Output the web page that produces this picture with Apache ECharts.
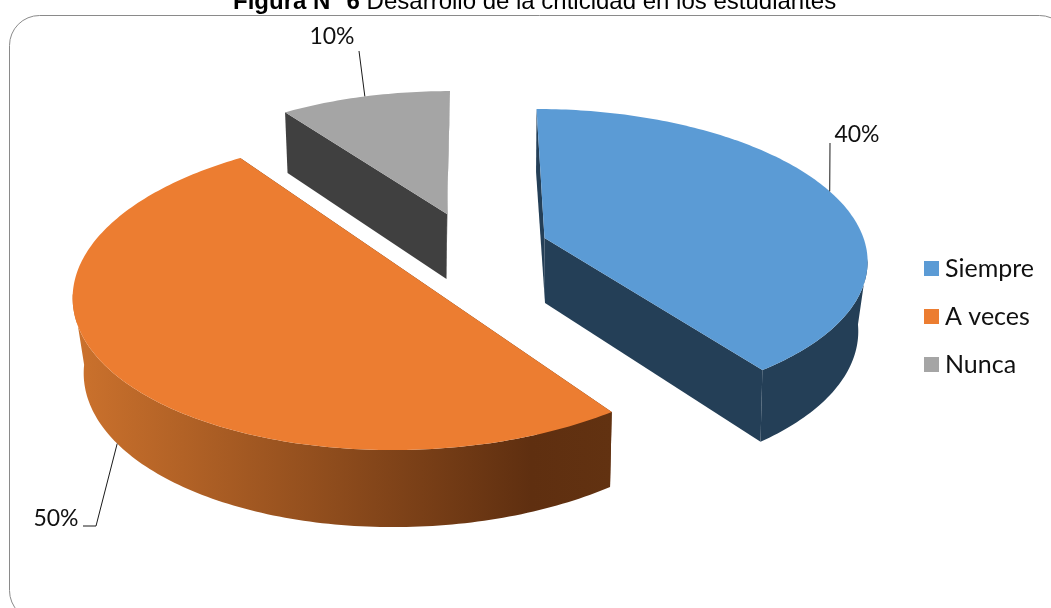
<!DOCTYPE html>
<html><head><meta charset="utf-8">
<style>html,body{margin:0;padding:0;background:#fff;overflow:hidden}#c{width:1051px;height:608px}</style>
<script src="https://cdn.jsdelivr.net/npm/echarts@6/dist/echarts.min.js"></script>
</head><body><div id="c"></div>
<script>
// ---- data ----
const categories = ['Siempre', 'A veces', 'Nunca'];
const values = [40, 50, 10];
const colors = ['#5b9bd5', '#ec7d31', '#a5a5a5'];
const titleBold = 'Figura N° 6';
const titleRest = ' Desarrollo de la criticidad en los estudiantes';

// ---- 3D projection of each exploded slice: circle -> perspective plane ----
const K_TOP = -0.131, K_BOT = -0.15;
const FRONT_FROM = 98, FRONT_TO = 262;   // angles of the rim that face the viewer
const geometry = [
  { top: {ox: 544.5, oy: 238,   A: 319, S: 9,   B: 145.9}, bot: {ox: 545,   oy: 303,   A: 308, S: 10.3, B: 150.7} },
  { top: {ox: 406.3, oy: 271.5, A: 329, S: -12, B: 155.2}, bot: {ox: 408.6, oy: 342.4, A: 319, S: -13,  B: 157} },
  { top: {ox: 447,   oy: 214,   A: 309.4, S: -3.4, B: 139}, bot: {ox: 446.5, oy: 279,  A: 306, S: -2, B: 147} }
];
const wallFill = [
  '#243f57',
  new echarts.graphic.LinearGradient(73, 0, 612, 0, [
    {offset: 0, color: '#cc722d'}, {offset: 0.85, color: '#5f2f10'}, {offset: 1, color: '#623211'}
  ], true),
  '#404040'
];
// leader lines: anchored on the slice mid-angle, then these extra vertices
const leaders = [
  { face: 'top', shift: -1.5, via: [[830, 143]], text: [857, 135] },
  { face: 'bot', shift: 0, via: [[96, 526], [83, 526]], text: [56, 519] },
  { face: 'top', shift: 0, via: [[359, 51]], text: [332, 37] }
];

const total = values.reduce((a, b) => a + b, 0);
const starts = []; let acc = 0;
values.forEach(v => { starts.push(acc); acc += v; });

function proj(g, k, thetaDeg) {
  const t = thetaDeg * Math.PI / 180, x = Math.sin(t), y = -Math.cos(t), d = 1 + k * y;
  return [g.ox + (g.A * x + g.S * y) / d, g.oy + g.B * y / d];
}
function arc(g, k, a0, a1) {
  const n = Math.ceil(Math.abs(a1 - a0)), pts = [];
  for (let i = 0; i <= n; i++) pts.push(proj(g, k, a0 + (a1 - a0) * i / n));
  return pts;
}

function sliceRenderer(idx) {
  return function (params, api) {
    const v = api.value(0);
    const a0 = starts[idx] / total * 360, a1 = a0 + v / total * 360, mid = (a0 + a1) / 2;
    const g = geometry[idx];
    const topArc = arc(g.top, K_TOP, a0, a1), botArc = arc(g.bot, K_BOT, a0, a1);
    const tApex = [g.top.ox, g.top.oy], bApex = [g.bot.ox, g.bot.oy];
    const wall = wallFill[idx], ch = [];
    const poly = (points, fill) => ch.push({type: 'polygon', shape: {points}, style: {fill}});
    // side walls
    [0, 1].forEach(e => {
      const t = e ? topArc[topArc.length - 1] : topArc[0], b = e ? botArc[botArc.length - 1] : botArc[0];
      poly([tApex, t, b, bApex], idx === 1 ? '#5f2f10' : wall);
    });
    // outer wall: only the part of the rim that faces the viewer
    const f0 = Math.max(a0, FRONT_FROM), f1 = Math.min(a1, FRONT_TO);
    if (f1 > f0) {
      poly(arc(g.top, K_TOP, f0, f1).concat(arc(g.bot, K_BOT, f0, f1).reverse()), wall);
    }
    // top face
    poly([tApex].concat(topArc), colors[idx]);
    // leader + label
    const L = leaders[idx];
    const anchor = L.face === 'top' ? proj(g.top, K_TOP, mid + L.shift) : proj(g.bot, K_BOT, mid + L.shift);
    ch.push({type: 'polyline', shape: {points: [anchor].concat(L.via)}, style: {stroke: '#1a1a1a', fill: null, lineWidth: 1}});
    ch.push({type: 'text', style: {
      text: Math.round(v / total * 100) + '%', x: L.text[0], y: L.text[1],
      align: 'center', verticalAlign: 'middle', fill: '#111', font: '23px Lato'
    }});
    return {type: 'group', children: ch};
  };
}

const order = [2, 1, 0];
const chart = echarts.init(document.getElementById('c'), null, {renderer: 'canvas'});
chart.setOption({
  animation: false,
  title: {
    text: '{b|' + titleBold + '}{r|' + titleRest + '}', left: 233, top: -10, padding: 0,
    textStyle: { rich: {
      b: {fontFamily: 'Liberation Sans', fontSize: 24, fontWeight: 'bold', color: '#000'},
      r: {fontFamily: 'Liberation Sans', fontSize: 24, fontWeight: 'normal', color: '#000'}
    }}
  },
  legend: {
    orient: 'vertical', left: 924, top: 256, padding: 0, icon: 'rect', itemWidth: 15, itemHeight: 15, itemGap: 23,
    data: categories, selectedMode: false,
    textStyle: {fontFamily: 'Lato', fontSize: 25, color: '#111', lineHeight: 22, padding: [0, 0, 0, 1]}
  },
  graphic: [{
    type: 'rect', silent: true, z: -1,
    shape: {x: 9.5, y: 15.5, width: 1060, height: 605, r: 30},
    style: {fill: '#fff', stroke: '#8a8a8a', lineWidth: 1}
  }],
  series: order.map(i => ({
    type: 'custom', name: categories[i], coordinateSystem: 'none', silent: true,
    itemStyle: {color: colors[i]}, data: [[values[i]]], renderItem: sliceRenderer(i)
  }))
});
</script></body></html>
